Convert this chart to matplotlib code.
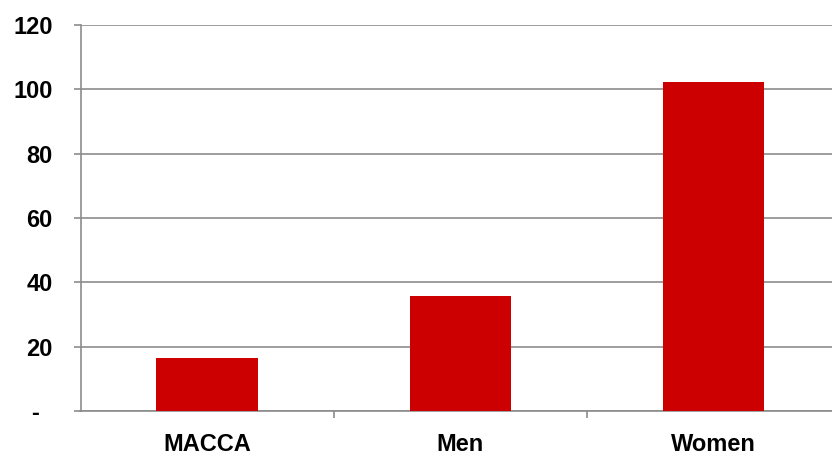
import matplotlib.pyplot as plt

categories = ['MACCA', 'Men', 'Women']
values = [16.4, 35.7, 102.3]
y_ticks = [0, 20, 40, 60, 80, 100, 120]
y_tick_labels = ['-  ', '20', '40', '60', '80', '100', '120']

plt.rcParams['font.family'] = ['Liberation Sans', 'DejaVu Sans']

fig = plt.figure(figsize=(8.32, 4.57), dpi=100)
# plot area runs off the right edge of the canvas
ax = fig.add_axes([80.5 / 832, 46 / 457, 760 / 832, 386 / 457])

ax.bar(range(len(categories)), values, width=0.4, color='#cc0000', zorder=3)

ax.set_xlim(-0.5, 2.5)
ax.set_ylim(0, 120)
ax.set_yticks(y_ticks)
ax.set_yticklabels(y_tick_labels, fontsize=17, fontweight='bold')
ax.yaxis.grid(True, color='#8c8c8c', linewidth=1.2, zorder=0)

# category labels centred, tick marks between categories
ax.set_xticks([0.5, 1.5])
ax.set_xticklabels([])
ax.set_xticks(range(len(categories)), minor=True)
ax.set_xticklabels(categories, minor=True, fontsize=17, fontweight='bold')
ax.tick_params(axis='x', which='minor', length=0, pad=16)
ax.tick_params(axis='x', which='major', length=5, color='#8c8c8c', width=1.2)
ax.tick_params(axis='y', length=5, color='#8c8c8c', width=1.2, pad=15)

for side in ['top', 'right']:
    ax.spines[side].set_visible(False)
for side in ['left', 'bottom']:
    ax.spines[side].set_color('#8c8c8c')
    ax.spines[side].set_linewidth(1.2)

fig.savefig('out.png', dpi=100)
